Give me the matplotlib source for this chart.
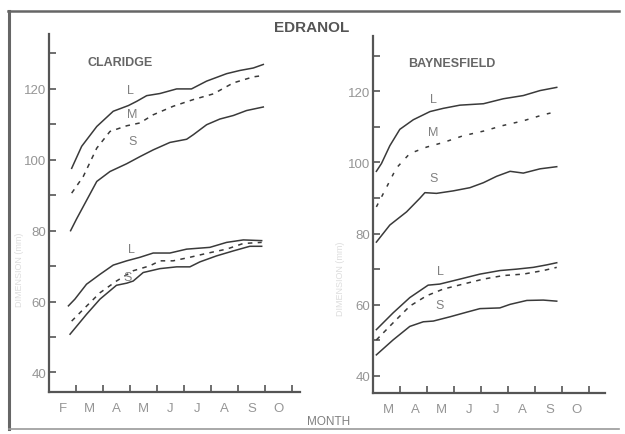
import matplotlib
matplotlib.use("Agg")
import matplotlib.pyplot as plt
from matplotlib.lines import Line2D

plt.rcParams['font.family'] = ['Liberation Sans', 'DejaVu Sans']

# month positions: Claridge counts from 1 Feb, Baynesfield from 1 Mar
cl_months = ['F', 'M', 'A', 'M', 'J', 'J', 'A', 'S', 'O']
by_months = ['M', 'A', 'M', 'J', 'J', 'A', 'S', 'O']

# Claridge, upper group
cl_up_L_x = [0.84, 1.21, 1.77, 2.38, 2.94, 3.25, 3.62, 4.11, 4.73, 5.28, 5.84, 6.58, 7.07, 7.57, 7.94]
cl_up_L_y = [97.6, 103.8, 109.4, 113.7, 115.3, 116.5, 118.1, 118.7, 120, 120, 122.2, 124.3, 125.2, 125.9, 126.9]
cl_up_M_x = [0.84, 1.27, 1.77, 2.26, 2.88, 3.37, 3.86, 4.6, 5.35, 6.09, 6.83, 7.57, 7.96]
cl_up_M_y = [90.6, 95.3, 103.3, 108, 109.6, 110.4, 112.7, 115.1, 117, 118.6, 121.7, 123.4, 123.8]
cl_up_S_x = [0.80, 1.02, 1.77, 2.26, 2.88, 3.37, 3.86, 4.48, 5.1, 5.35, 5.84, 6.33, 6.83, 7.32, 7.94]
cl_up_S_y = [80, 83.3, 93.9, 96.7, 98.9, 100.9, 102.8, 104.9, 105.8, 107.1, 109.9, 111.5, 112.5, 113.9, 114.9]

# Claridge, lower group
cl_lo_L_x = [0.72, 0.96, 1.39, 1.89, 2.38, 2.88, 3.37, 3.86, 4.48, 5.1, 5.96, 6.58, 7.2, 7.88]
cl_lo_L_y = [58.8, 60.7, 64.9, 67.7, 70.3, 71.5, 72.5, 73.7, 73.7, 74.8, 75.3, 76.7, 77.4, 77.2]
cl_lo_M_x = [0.84, 1.27, 1.89, 2.5, 3.12, 3.74, 4.11, 4.6, 5.22, 5.84, 6.58, 7.2, 7.88]
cl_lo_M_y = [54.5, 57.8, 62.5, 65.8, 68.7, 70.1, 71.5, 71.5, 72.5, 73.6, 74.8, 76.4, 76.7]
cl_lo_S_x = [0.78, 1.39, 1.89, 2.5, 2.88, 3.12, 3.49, 4.11, 4.73, 5.22, 5.59, 6.21, 6.83, 7.44, 7.88]
cl_lo_S_y = [50.8, 56.4, 60.7, 64.6, 65.2, 65.8, 68.2, 69.3, 69.8, 69.8, 71.2, 72.9, 74.3, 75.6, 75.6]

# Baynesfield, upper group
by_up_L_x = [0.12, 0.31, 0.62, 0.99, 1.49, 2.11, 2.6, 3.22, 4.09, 4.83, 5.57, 6.19, 6.81]
by_up_L_y = [97.5, 99.7, 104.7, 109.3, 112, 114.3, 115.2, 116.1, 116.5, 117.9, 118.8, 120.2, 121.1]
by_up_M_x = [0.12, 0.49, 0.86, 1.36, 1.98, 2.6, 3.34, 4.09, 4.83, 5.57, 6.31, 6.81]
by_up_M_y = [87.5, 92.9, 98.4, 102.5, 104.3, 105.6, 107.5, 108.8, 110.4, 111.7, 113.4, 114.3]
by_up_S_x = [0.12, 0.62, 1.24, 1.73, 1.92, 2.35, 2.97, 3.59, 4.09, 4.58, 5.08, 5.57, 6.19, 6.81]
by_up_S_y = [77.6, 82.4, 86.1, 89.9, 91.5, 91.3, 92, 92.9, 94.3, 96.1, 97.5, 97, 98.2, 98.8]

# Baynesfield, lower group
by_lo_L_x = [0.12, 0.74, 1.36, 2.04, 2.47, 3.22, 3.96, 4.7, 5.32, 5.94, 6.44, 6.81]
by_lo_L_y = [53, 57.7, 62, 65.5, 65.8, 67.2, 68.6, 69.6, 70, 70.5, 71.2, 71.8]
by_lo_M_x = [0.12, 0.74, 1.36, 1.98, 2.6, 3.34, 4.09, 4.83, 5.57, 6.31, 6.81]
by_lo_M_y = [50.1, 54.9, 59.6, 62.5, 64.4, 65.8, 67.2, 68.2, 68.6, 69.6, 70.5]
by_lo_S_x = [0.12, 0.74, 1.36, 1.86, 2.23, 2.85, 3.47, 3.96, 4.7, 5.08, 5.7, 6.31, 6.81]
by_lo_S_y = [45.9, 50.1, 53.9, 55.2, 55.4, 56.6, 57.9, 58.9, 59.1, 60.1, 61.2, 61.3, 61]

LINE = '#3a3a3a'
AXC = '#555555'
TXT = '#959595'
DASH = (0, (3, 3.5))
DOTS = (0, (2.5, 5))

fig = plt.figure(figsize=(6.25, 4.35), dpi=100)
ax1 = fig.add_axes([0.0784, 0.0966, 0.4016, 0.823])
ax2 = fig.add_axes([0.597, 0.0936, 0.371, 0.821])


def style(ax, months, xmax, ylo, lab_off):
    ax.set_xlim(0, xmax)
    ax.set_ylim(ylo, 135.5)
    for s in ['top', 'right']:
        ax.spines[s].set_visible(False)
    for s in ['left', 'bottom']:
        ax.spines[s].set_color(AXC)
        ax.spines[s].set_linewidth(1.6)
    ax.set_yticks(range(40, 131, 10))
    ax.set_yticklabels([str(v) if v % 20 == 0 else '' for v in range(40, 131, 10)])
    ax.tick_params(axis='y', direction='in', length=5, width=1.2, color=AXC,
                   labelsize=9.5, labelcolor=TXT, pad=2)
    ax.set_xticks(range(1, len(months) + 1))
    ax.set_xticklabels([])
    ax.tick_params(axis='x', which='major', direction='in', length=5, width=1.2, color=AXC)
    ax.set_xticks([i + lab_off for i in range(len(months))], minor=True)
    ax.set_xticklabels(months, minor=True)
    ax.tick_params(axis='x', which='minor', length=0, labelsize=9.5,
                   labelcolor=TXT, pad=7)


style(ax1, cl_months, 9.3, 34.5, 0.5)
style(ax2, by_months, 8.6, 35.1, 0.55)

for ax, sets in [
    (ax1, [(cl_up_L_x, cl_up_L_y, '-'), (cl_up_M_x, cl_up_M_y, DASH), (cl_up_S_x, cl_up_S_y, '-'),
           (cl_lo_L_x, cl_lo_L_y, '-'), (cl_lo_M_x, cl_lo_M_y, DASH), (cl_lo_S_x, cl_lo_S_y, '-')]),
    (ax2, [(by_up_L_x, by_up_L_y, '-'), (by_up_M_x, by_up_M_y, DOTS), (by_up_S_x, by_up_S_y, '-'),
           (by_lo_L_x, by_lo_L_y, '-'), (by_lo_M_x, by_lo_M_y, DASH), (by_lo_S_x, by_lo_S_y, '-')]),
]:
    for xs, ys, ls in sets:
        ax.plot(xs, ys, color=LINE, lw=1.1, linestyle=ls)

# curve letters
lab = dict(color='#808080', fontsize=9, ha='center', va='center')
ax1.text(3.0, 119.8, 'L', **lab)
ax1.text(3.1, 112.8, 'M', **lab)
ax1.text(3.1, 105.2, 'S', **lab)
ax1.text(3.05, 74.7, 'L', **lab)
ax1.text(2.9, 66.8, 'S', **lab)
ax2.text(2.23, 117.9, 'L', **lab)
ax2.text(2.23, 108.5, 'M', **lab)
ax2.text(2.25, 95.5, 'S', **lab)
ax2.text(2.48, 69.4, 'L', **lab)
ax2.text(2.48, 59.8, 'S', **lab)

ax1.text(1.44, 127.7, 'CLARIDGE', color='#666666', fontsize=9, fontweight='bold',
         ha='left', va='center')
ax2.text(1.29, 128.0, 'BAYNESFIELD', color='#666666', fontsize=9, fontweight='bold',
         ha='left', va='center')

fig.text(0.498, 0.935, 'EDRANOL', color='#555555', fontsize=11, fontweight='bold',
         ha='center', va='center')
fig.text(0.526, 0.030, 'MONTH', color='#808080', fontsize=8.5, ha='center', va='center')
fig.text(0.032, 0.38, 'DIMENSION (mm)', color='#dddddd', fontsize=6.5,
         rotation=90, ha='center', va='center')
fig.text(0.545, 0.36, 'DIMENSION (mm)', color='#dddddd', fontsize=6.5,
         rotation=90, ha='center', va='center')

# frame of the scanned figure
fig.add_artist(Line2D([0.013, 0.99], [0.972, 0.972], color='#666666', lw=1.8))
fig.add_artist(Line2D([0.0144, 0.0144], [0.972, 0.012], color='#666666', lw=2.2))
fig.add_artist(Line2D([0.0144, 0.99], [0.012, 0.012], color='#999999', lw=1.2))

fig.savefig('out.png', dpi=100)
